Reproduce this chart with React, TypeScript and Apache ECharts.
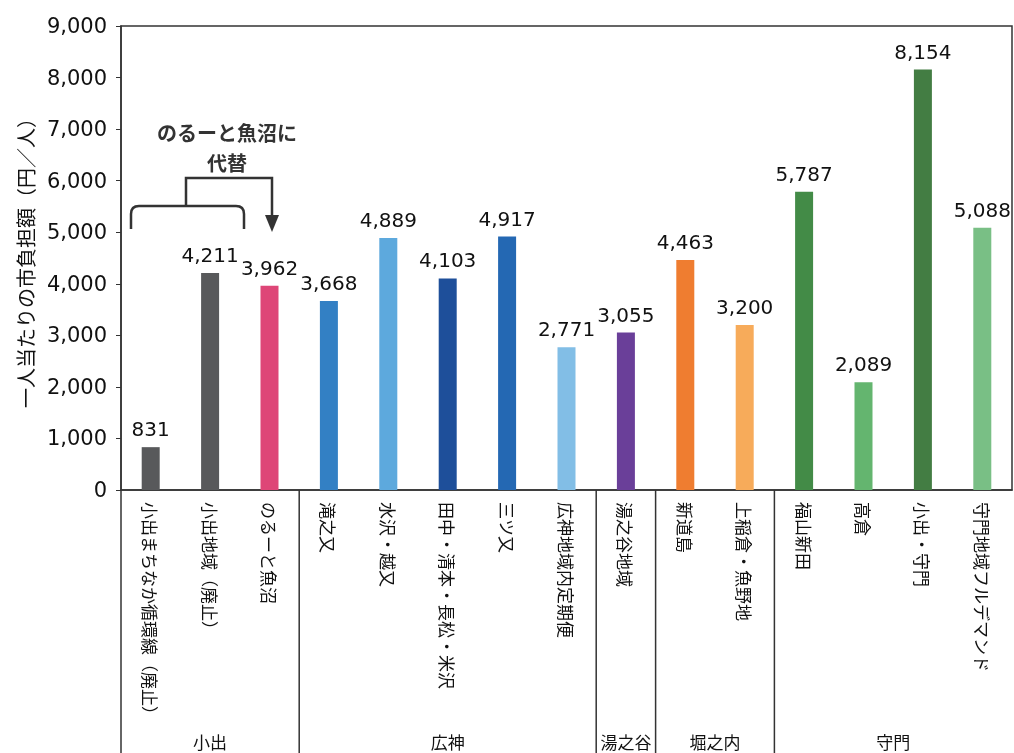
import React, { useEffect, useRef } from "react";
import * as echarts from "echarts";

const categories = [
  "小出まちなか循環線（廃止）",
  "小出地域（廃止）",
  "のるーと魚沼",
  "滝之又",
  "水沢・越又",
  "田中・清本・長松・米沢",
  "三ツ又",
  "広神地域内定期便",
  "湯之谷地域",
  "新道島",
  "上稲倉・魚野地",
  "福山新田",
  "高倉",
  "小出・守門",
  "守門地域フルデマンド",
];
const values = [831, 4211, 3962, 3668, 4889, 4103, 4917, 2771, 3055, 4463, 3200, 5787, 2089, 8154, 5088];
const colors = [
  "#58595B", "#58595B", "#DE4677", "#3380C4", "#5DA9DD", "#1E4F9A", "#2468B3", "#82BEE6",
  "#6A3F99", "#EF7D30", "#F7AB5A", "#438B47", "#64B56F", "#437D43", "#79BF85",
];
const groupNames = ["小出", "広神", "湯之谷", "堀之内", "守門"];
const groupBounds = [0, 3, 8, 9, 11, 15];
const yTicks = { min: 0, max: 9000, interval: 1000 };
const yTitle = "一人当たりの市負担額（円／人）";
const noteLines = ["のるーと魚沼に", "代替"];

const FONT = "'Noto Sans CJK JP', 'Noto Sans', sans-serif";
const NUMFONT = "'DejaVu Sans', 'Noto Sans CJK JP', sans-serif";

export default function App() {
  const ref = useRef<HTMLDivElement>(null);
  useEffect(() => {
    if (!ref.current) return;
    const chart = echarts.init(ref.current, null, { renderer: "svg" });
    echarts.graphic.registerShape(
      "bracketShape",
      echarts.graphic.extendPath(
        "M131,229 L131,214 Q131,206 139,206 L236,206 Q244,206 244,214 L244,229",
        {}
      )
    );
    echarts.graphic.registerShape(
      "stemShape",
      echarts.graphic.extendPath("M186,206 L186,178 L272,178 L272,217", {})
    );
    chart.setOption({
      animation: false,
      textStyle: { fontFamily: FONT },
      grid: {
        left: 121,
        right: 2,
        top: 26,
        bottom: 263,
        show: true,
        borderColor: "#333",
        borderWidth: 1.5,
      },
      xAxis: {
        type: "category",
        data: categories,
        axisLine: { lineStyle: { color: "#333", width: 1.5 } },
        axisTick: { show: false },
        axisLabel: {
          interval: 0,
          rotate: -90,
          fontSize: 17,
          color: "#111",
          margin: 12,
          fontFamily: FONT,
        },
      },
      yAxis: {
        type: "value",
        min: yTicks.min,
        max: yTicks.max,
        interval: yTicks.interval,
        name: yTitle,
        nameLocation: "middle",
        nameRotate: 90,
        nameGap: 84,
        nameTextStyle: { fontSize: 20, color: "#111", fontFamily: FONT },
        axisLine: { show: true, lineStyle: { color: "#333", width: 1.5 } },
        axisTick: { show: true, length: 5, lineStyle: { color: "#333" } },
        splitLine: { show: false },
        axisLabel: {
          fontSize: 21,
          color: "#111",
          margin: 14,
          fontFamily: NUMFONT,
          formatter: (v: number) => v.toLocaleString("en-US"),
        },
      },
      series: [
        {
          type: "bar",
          barWidth: 18,
          data: values.map((v, i) => ({ value: v, itemStyle: { color: colors[i] } })),
          label: {
            show: true,
            position: "top",
            distance: 8,
            fontSize: 20,
            color: "#111",
            fontFamily: NUMFONT,
            formatter: (p: any) => Number(p.value).toLocaleString("en-US"),
          },
        },
      ],
    });

    const c0 = chart.convertToPixel({ xAxisIndex: 0 }, 0) as number;
    const c1 = chart.convertToPixel({ xAxisIndex: 0 }, 1) as number;
    const half = (c1 - c0) / 2;
    const bx = (b: number) => c0 - half + b * 2 * half;
    const y0 = chart.convertToPixel({ yAxisIndex: 0 }, 0) as number;
    const H = 753;

    const graphics: any[] = [];
    groupBounds.slice(0, -1).forEach((b) => {
      graphics.push({
        type: "line",
        shape: { x1: bx(b), y1: y0, x2: bx(b), y2: H },
        style: { stroke: "#333", lineWidth: 1.5 },
        silent: true,
      });
    });
    groupNames.forEach((g, i) => {
      const x = (bx(groupBounds[i]) + bx(groupBounds[i + 1])) / 2;
      graphics.push({
        type: "text",
        x,
        y: 741,
        style: {
          text: g,
          fontSize: 17,
          fill: "#111",
          fontFamily: FONT,
          align: "center",
          verticalAlign: "middle",
        },
      });
    });
    graphics.push({
      type: "bracketShape",
      x: 0,
      y: 0,
      style: { stroke: "#333", lineWidth: 2.5, fill: "none" },
    });
    graphics.push({
      type: "stemShape",
      x: 0,
      y: 0,
      style: { stroke: "#333", lineWidth: 2.5, fill: "none" },
    });
    graphics.push({
      type: "polygon",
      shape: { points: [[265, 215], [279, 215], [272, 232]] },
      style: { fill: "#333" },
    });
    noteLines.forEach((t, i) => {
      graphics.push({
        type: "text",
        x: 227,
        y: 132 + i * 30,
        style: {
          text: t,
          fontSize: 20,
          fontWeight: "bold",
          fill: "#333",
          fontFamily: FONT,
          align: "center",
          verticalAlign: "middle",
        },
      });
    });
    chart.setOption({ graphic: graphics });

    return () => chart.dispose();
  }, []);
  return (
    <div
      ref={ref}
      style={{ position: "fixed", left: 0, top: 0, width: 1014, height: 753 }}
    />
  );
}
